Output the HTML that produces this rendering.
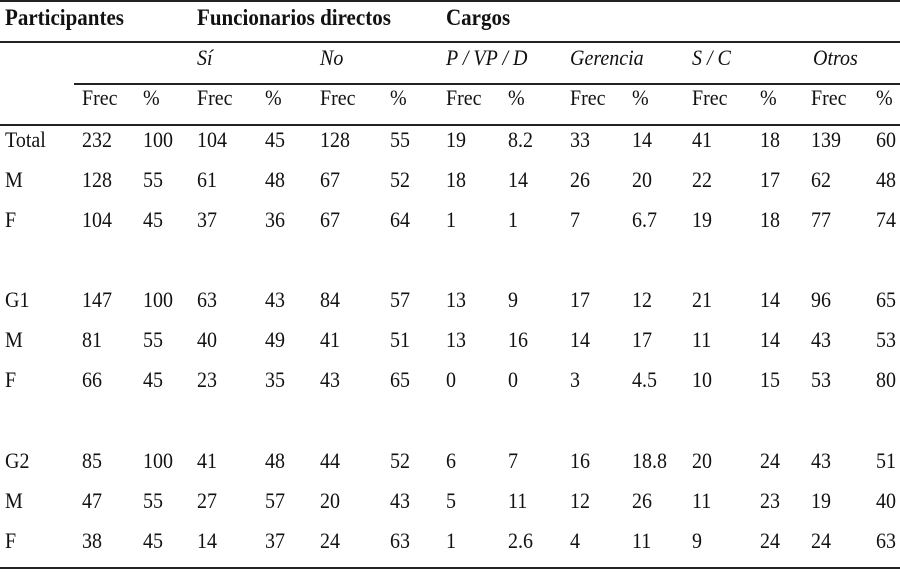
<!DOCTYPE html>
<html><head><meta charset="utf-8"><style>
body{margin:0;width:900px;height:572px;background:#fff;position:relative;overflow:hidden;font-family:"Liberation Serif",serif;color:#111;font-size:20px}
.l{position:absolute;background:#222;height:2px}
.r{position:absolute;left:0;width:900px;height:24px;line-height:24px;transform:scaleY(1.13);transform-origin:0 50%}
.r span{position:absolute;white-space:nowrap}
.b{font-weight:bold;font-size:21px}
.i{font-style:italic}
.c0{left:5px}.c1{left:82px}.c2{left:143px}.c3{left:197px}.c4{left:265px}.c5{left:320px}.c6{left:390px}.c7{left:446px}.c8{left:508px}.c9{left:570px}.c10{left:632px}.c11{left:692px}.c12{left:760px}.c13{left:811px}.c14{left:876px}
</style></head><body>
<div class="l" style="left:0;top:0;width:900px"></div>
<div class="l" style="left:0;top:41px;width:900px"></div>
<div class="l" style="left:74px;top:83px;width:826px"></div>
<div class="l" style="left:0;top:124px;width:900px"></div>
<div class="l" style="left:0;top:567px;width:900px"></div>

<div class="r b" style="top:5px"><span class="c0">Participantes</span><span class="c3">Funcionarios directos</span><span class="c7">Cargos</span></div>
<div class="r i" style="top:46px"><span class="c3">Sí</span><span class="c5">No</span><span class="c7">P / VP / D</span><span class="c9">Gerencia</span><span class="c11">S / C</span><span class="c13" style="left:813px">Otros</span></div>
<div class="r" style="top:86px"><span class="c1">Frec</span><span class="c2">%</span><span class="c3">Frec</span><span class="c4">%</span><span class="c5">Frec</span><span class="c6">%</span><span class="c7">Frec</span><span class="c8">%</span><span class="c9">Frec</span><span class="c10">%</span><span class="c11">Frec</span><span class="c12">%</span><span class="c13">Frec</span><span class="c14">%</span></div>

<div class="r" style="top:128px"><span class="c0">Total</span><span class="c1">232</span><span class="c2">100</span><span class="c3">104</span><span class="c4">45</span><span class="c5">128</span><span class="c6">55</span><span class="c7">19</span><span class="c8">8.2</span><span class="c9">33</span><span class="c10">14</span><span class="c11">41</span><span class="c12">18</span><span class="c13">139</span><span class="c14">60</span></div>
<div class="r" style="top:168px"><span class="c0">M</span><span class="c1">128</span><span class="c2">55</span><span class="c3">61</span><span class="c4">48</span><span class="c5">67</span><span class="c6">52</span><span class="c7">18</span><span class="c8">14</span><span class="c9">26</span><span class="c10">20</span><span class="c11">22</span><span class="c12">17</span><span class="c13">62</span><span class="c14">48</span></div>
<div class="r" style="top:208px"><span class="c0">F</span><span class="c1">104</span><span class="c2">45</span><span class="c3">37</span><span class="c4">36</span><span class="c5">67</span><span class="c6">64</span><span class="c7">1</span><span class="c8">1</span><span class="c9">7</span><span class="c10">6.7</span><span class="c11">19</span><span class="c12">18</span><span class="c13">77</span><span class="c14">74</span></div>

<div class="r" style="top:288px"><span class="c0">G1</span><span class="c1">147</span><span class="c2">100</span><span class="c3">63</span><span class="c4">43</span><span class="c5">84</span><span class="c6">57</span><span class="c7">13</span><span class="c8">9</span><span class="c9">17</span><span class="c10">12</span><span class="c11">21</span><span class="c12">14</span><span class="c13">96</span><span class="c14">65</span></div>
<div class="r" style="top:328px"><span class="c0">M</span><span class="c1">81</span><span class="c2">55</span><span class="c3">40</span><span class="c4">49</span><span class="c5">41</span><span class="c6">51</span><span class="c7">13</span><span class="c8">16</span><span class="c9">14</span><span class="c10">17</span><span class="c11">11</span><span class="c12">14</span><span class="c13">43</span><span class="c14">53</span></div>
<div class="r" style="top:368px"><span class="c0">F</span><span class="c1">66</span><span class="c2">45</span><span class="c3">23</span><span class="c4">35</span><span class="c5">43</span><span class="c6">65</span><span class="c7">0</span><span class="c8">0</span><span class="c9">3</span><span class="c10">4.5</span><span class="c11">10</span><span class="c12">15</span><span class="c13">53</span><span class="c14">80</span></div>

<div class="r" style="top:449px"><span class="c0">G2</span><span class="c1">85</span><span class="c2">100</span><span class="c3">41</span><span class="c4">48</span><span class="c5">44</span><span class="c6">52</span><span class="c7">6</span><span class="c8">7</span><span class="c9">16</span><span class="c10">18.8</span><span class="c11">20</span><span class="c12">24</span><span class="c13">43</span><span class="c14">51</span></div>
<div class="r" style="top:489px"><span class="c0">M</span><span class="c1">47</span><span class="c2">55</span><span class="c3">27</span><span class="c4">57</span><span class="c5">20</span><span class="c6">43</span><span class="c7">5</span><span class="c8">11</span><span class="c9">12</span><span class="c10">26</span><span class="c11">11</span><span class="c12">23</span><span class="c13">19</span><span class="c14">40</span></div>
<div class="r" style="top:529px"><span class="c0">F</span><span class="c1">38</span><span class="c2">45</span><span class="c3">14</span><span class="c4">37</span><span class="c5">24</span><span class="c6">63</span><span class="c7">1</span><span class="c8">2.6</span><span class="c9">4</span><span class="c10">11</span><span class="c11">9</span><span class="c12">24</span><span class="c13">24</span><span class="c14">63</span></div>
</body></html>
